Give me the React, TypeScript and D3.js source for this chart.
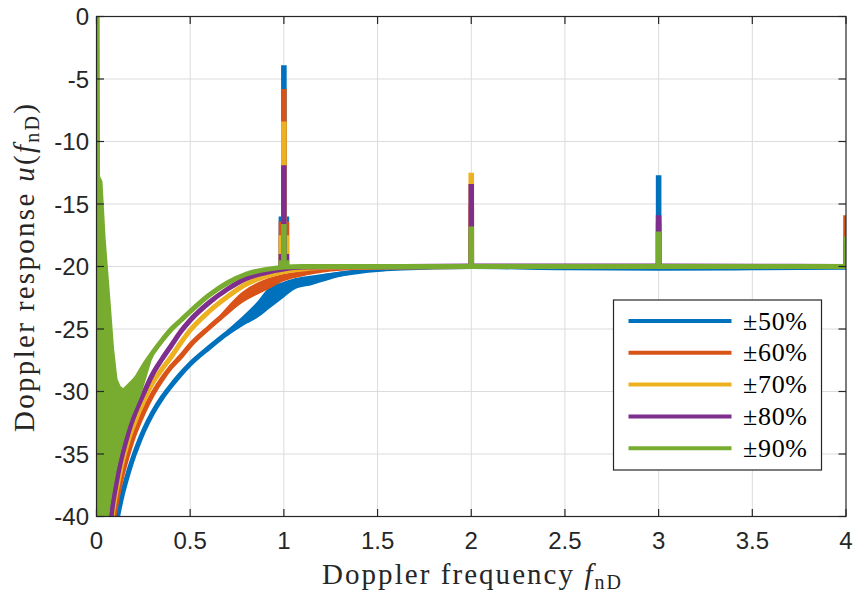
import React from 'react';
import * as d3 from 'd3';

// Sweep labels and MATLAB default line colours
const seriesLabels = ['±50%', '±60%', '±70%', '±80%', '±90%'];
const seriesColors = ['#0072BD', '#D95319', '#EDB120', '#7E2F8E', '#77AC30'];

// Response floor of each sweep: [f_nD, dB]
const curve50: [number, number][] = [
  [0.11, -40.2], [0.12, -39.45], [0.14, -38.1], [0.16, -37.0], [0.18, -36.0],
  [0.2, -35.1], [0.22, -34.3], [0.25, -33.2], [0.3, -31.7], [0.35, -30.5],
  [0.4, -29.5], [0.45, -28.6], [0.5, -27.8], [0.6, -26.5], [0.7, -25.3],
  [0.75, -24.75], [0.8, -24.2], [0.85, -23.5], [0.9, -22.85], [0.95, -22.3],
  [1.0, -21.85], [1.1, -21.2], [1.2, -20.85], [1.3, -20.6], [1.4, -20.4],
  [1.5, -20.25], [1.6, -20.15], [1.8, -20.05], [2.0, -20.0], [2.5, -20.1],
  [3.0, -20.15], [3.5, -20.1], [4.0, -20.05],
];
const curve60: [number, number][] = [
  [0.09, -40.3], [0.1, -39.4], [0.12, -37.8], [0.14, -36.5], [0.16, -35.4],
  [0.18, -34.4], [0.2, -33.5], [0.25, -31.7], [0.3, -30.2], [0.35, -29.0],
  [0.4, -28.0], [0.45, -27.2], [0.5, -26.3], [0.6, -24.9], [0.7, -23.6],
  [0.8, -22.25], [0.9, -21.45], [1.0, -20.9], [1.1, -20.55], [1.2, -20.3],
  [1.3, -20.15], [1.5, -20.05], [2.0, -20.0], [4.0, -20.0],
];
const curve70: [number, number][] = [
  [0.08, -40.3], [0.09, -39.3], [0.1, -38.4], [0.12, -36.85], [0.14, -35.5],
  [0.16, -34.4], [0.18, -33.4], [0.2, -32.6], [0.25, -30.8], [0.3, -29.3],
  [0.35, -28.2], [0.4, -27.2], [0.45, -26.1], [0.5, -25.1], [0.6, -23.6],
  [0.7, -22.4], [0.8, -21.4], [0.9, -20.8], [1.0, -20.4], [1.1, -20.2],
  [1.3, -20.05], [2.0, -20.0], [4.0, -20.0],
];
const curve80: [number, number][] = [
  [0.075, -40.4], [0.085, -39.15], [0.1, -37.8], [0.12, -36.2], [0.14, -34.9],
  [0.16, -33.8], [0.18, -32.8], [0.2, -31.96], [0.25, -30.2], [0.3, -28.6],
  [0.35, -27.4], [0.4, -26.3], [0.45, -25.2], [0.5, -24.3], [0.6, -22.9],
  [0.7, -21.8], [0.8, -20.95], [0.9, -20.5], [1.0, -20.2], [1.1, -20.05],
  [2.0, -19.95], [3.0, -19.95], [4.0, -20.0],
];
const curve90: [number, number][] = [
  [0.2, -29.3], [0.25, -28.0], [0.3, -26.9], [0.35, -25.9], [0.4, -25.0],
  [0.45, -24.3], [0.5, -23.6], [0.6, -22.3], [0.7, -21.3], [0.8, -20.6],
  [0.9, -20.25], [1.0, -20.05], [1.1, -20.0], [4.0, -20.0],
];

// Spread of the oscillation around the floor near the first harmonic: [f_nD, upper dB, lower dB]
const spread50: [number, number, number][] = [
  [0.7, -25.15, -25.45], [0.8, -23.8, -24.5], [0.86, -22.9, -24.0], [0.92, -21.8, -23.3],
  [0.99, -21.35, -22.5], [1.05, -21.05, -21.8], [1.15, -20.8, -21.4], [1.3, -20.5, -20.75],
  [1.4, -20.35, -20.45],
];
const spread60: [number, number, number][] = [
  [0.65, -24.15, -24.35], [0.78, -22.1, -22.8], [0.92, -21.0, -21.7], [0.99, -20.7, -21.15],
  [1.1, -20.45, -20.7], [1.2, -20.25, -20.35],
];

// Strongly oscillating low-frequency region of the ±90% sweep
const band90Upper: [number, number][] = [
  [0, 0], [0.013, 0], [0.015, -12.8], [0.028, -13.2], [0.045, -17.8],
  [0.07, -22.6], [0.09, -26.6], [0.108, -29.0], [0.125, -29.6], [0.143, -29.8],
  [0.19, -29.1], [0.22, -28.6], [0.25, -28.0], [0.3, -26.9],
];
const band90Lower: [number, number][] = [
  [0, -42], [0.05, -42], [0.06, -40.4], [0.07, -39.15], [0.085, -37.8],
  [0.105, -36.2], [0.125, -34.9], [0.145, -33.8], [0.165, -32.8], [0.185, -31.96],
  [0.235, -30.2], [0.26, -29.0], [0.29, -27.5], [0.3, -27.2],
];

// Harmonic peaks at f_nD = 1, 2, 3, 4
const harmonics = [1, 2, 3, 4];
const peaks50 = [-3.9, -19.0, -12.7, -19.0];
const peaks60 = [-5.8, -15.0, -16.5, -15.9];
const peaks70 = [-8.4, -12.5, -18.0, -19.0];
const peaks80 = [-11.9, -13.4, -15.9, -18.0];
const peaks90 = [-16.6, -16.8, -17.2, -17.6];

// Side lobes right next to the first harmonic
const sideLobeOffsets = [-0.02, 0.02];
const sideLobes = [-16.0, -16.4, -17.5, -19.0, -19.5];

const xTicks = [0, 0.5, 1, 1.5, 2, 2.5, 3, 3.5, 4];
const yTicks = [0, -5, -10, -15, -20, -25, -30, -35, -40];

const curves = [curve50, curve60, curve70, curve80, curve90];
const spreads: ([number, number, number][] | null)[] = [spread50, spread60, null, null, null];
const peaks = [peaks50, peaks60, peaks70, peaks80, peaks90];

const W = 855;
const H = 593;
const left = 96.5;
const right = 846;
const top = 16.5;
const bottom = 516.5;
const axisColor = '#262626';
const tickFont = '"Liberation Sans", Arial, Helvetica, sans-serif';
const texFont = '"Liberation Serif", "Times New Roman", serif';

export default function App() {
  const x = d3.scaleLinear().domain([0, 4]).range([left, right]);
  const y = d3.scaleLinear().domain([-40, 0]).range([bottom, top]);
  const smooth = d3
    .line<[number, number]>()
    .x((d) => x(d[0]))
    .y((d) => y(d[1]))
    .curve(d3.curveMonotoneX);
  const straight = d3
    .line<[number, number]>()
    .x((d) => x(d[0]))
    .y((d) => y(d[1]));
  const spreadArea = d3
    .area<[number, number, number]>()
    .x((d) => x(d[0]))
    .y0((d) => y(d[2]))
    .y1((d) => y(d[1]))
    .curve(d3.curveMonotoneX);
  const bandPath =
    straight(band90Upper.concat(band90Lower.slice().reverse()) as [number, number][]) + 'Z';

  const tickLen = 7.5;
  const legendX = 613.5;
  const legendY = 300;
  const legendW = 208;
  const legendH = 170;
  const rowH = 31.8;

  return (
    <svg
      width={W}
      height={H}
      style={{ position: 'absolute', left: 0, top: 0, background: '#fff' }}
    >
      <defs>
        <clipPath id="plotArea">
          <rect x={left} y={top} width={right - left} height={bottom - top} />
        </clipPath>
      </defs>
      <rect x={0} y={0} width={W} height={H} fill="#fff" />

      {/* grid */}
      <g stroke="#dcdcdc" strokeWidth={1}>
        {xTicks.slice(1, -1).map((t) => (
          <line key={'gx' + t} x1={x(t)} x2={x(t)} y1={top} y2={bottom} />
        ))}
        {yTicks.slice(1, -1).map((t) => (
          <line key={'gy' + t} x1={left} x2={right} y1={y(t)} y2={y(t)} />
        ))}
      </g>

      {/* data */}
      <g clipPath="url(#plotArea)" fill="none">
        {curves.map((c, i) => (
          <g key={'s' + i}>
            {i === 4 && (
              <path d={bandPath} fill={seriesColors[4]} stroke={seriesColors[4]} strokeWidth={1.5} />
            )}
            {spreads[i] && (
              <path
                d={spreadArea(spreads[i]!) || ''}
                fill={seriesColors[i]}
                stroke={seriesColors[i]}
                strokeWidth={2}
              />
            )}
            <path
              d={smooth(c) || ''}
              stroke={seriesColors[i]}
              strokeWidth={5}
              strokeLinejoin="round"
            />
            {sideLobeOffsets.map((o) => (
              <line
                key={'sl' + o}
                x1={x(1 + o)}
                x2={x(1 + o)}
                y1={y(-20)}
                y2={y(sideLobes[i])}
                stroke={seriesColors[i]}
                strokeWidth={3}
              />
            ))}
            {harmonics.map((h, k) => (
              <line
                key={'p' + h}
                x1={x(h)}
                x2={x(h)}
                y1={y(-20.1)}
                y2={y(peaks[i][k])}
                stroke={seriesColors[i]}
                strokeWidth={5.6}
              />
            ))}
          </g>
        ))}
      </g>

      {/* axes box and ticks */}
      <g stroke={axisColor} strokeWidth={1.2} fill="none">
        <rect x={left} y={top} width={right - left} height={bottom - top} />
        {xTicks.map((t) => (
          <g key={'tx' + t}>
            <line x1={x(t)} x2={x(t)} y1={bottom} y2={bottom - tickLen} />
            <line x1={x(t)} x2={x(t)} y1={top} y2={top + tickLen} />
          </g>
        ))}
        {yTicks.map((t) => (
          <g key={'ty' + t}>
            <line x1={left} x2={left + tickLen} y1={y(t)} y2={y(t)} />
            <line x1={right} x2={right - tickLen} y1={y(t)} y2={y(t)} />
          </g>
        ))}
      </g>

      {/* tick labels */}
      <g fontFamily={tickFont} fontSize={24} fill={axisColor}>
        {xTicks.map((t) => (
          <text key={'lx' + t} x={x(t)} y={549} textAnchor="middle">
            {String(t)}
          </text>
        ))}
        {yTicks.map((t) => (
          <text key={'ly' + t} x={89} y={y(t)} dy="0.36em" textAnchor="end">
            {t === 0 ? '0' : '-' + String(-t)}
          </text>
        ))}
      </g>

      {/* axis titles */}
      <text
        x={322}
        y={584}
        textLength={299}
        lengthAdjust="spacing"
        fontFamily={texFont}
        fontSize={29}
        fill={axisColor}
      >
        Doppler frequency{' '}
        <tspan fontStyle="italic">f</tspan>
        <tspan fontSize={20} dy={5}>nD</tspan>
      </text>
      <text
        transform={`translate(33.5, 432) rotate(-90)`}
        textLength={328}
        lengthAdjust="spacing"
        fontFamily={texFont}
        fontSize={29}
        fill={axisColor}
      >
        Doppler response <tspan fontStyle="italic">u</tspan>(
        <tspan fontStyle="italic">f</tspan>
        <tspan fontSize={20} dy={5}>nD</tspan>
        <tspan dy={-5}>)</tspan>
      </text>

      {/* legend */}
      <g>
        <rect
          x={legendX}
          y={legendY}
          width={legendW}
          height={legendH}
          fill="#fff"
          stroke={axisColor}
          strokeWidth={1.2}
        />
        {seriesLabels.map((lab, i) => {
          const ly = legendY + 21 + i * rowH;
          return (
            <g key={'lg' + i}>
              <line x1={628.5} x2={731.5} y1={ly} y2={ly} stroke={seriesColors[i]} strokeWidth={4} />
              <text
                x={743}
                y={ly}
                dy="0.33em"
                textLength={64}
                lengthAdjust="spacing"
                fontFamily={texFont}
                fontSize={26}
                fill="#000"
              >
                {lab}
              </text>
            </g>
          );
        })}
      </g>
    </svg>
  );
}
